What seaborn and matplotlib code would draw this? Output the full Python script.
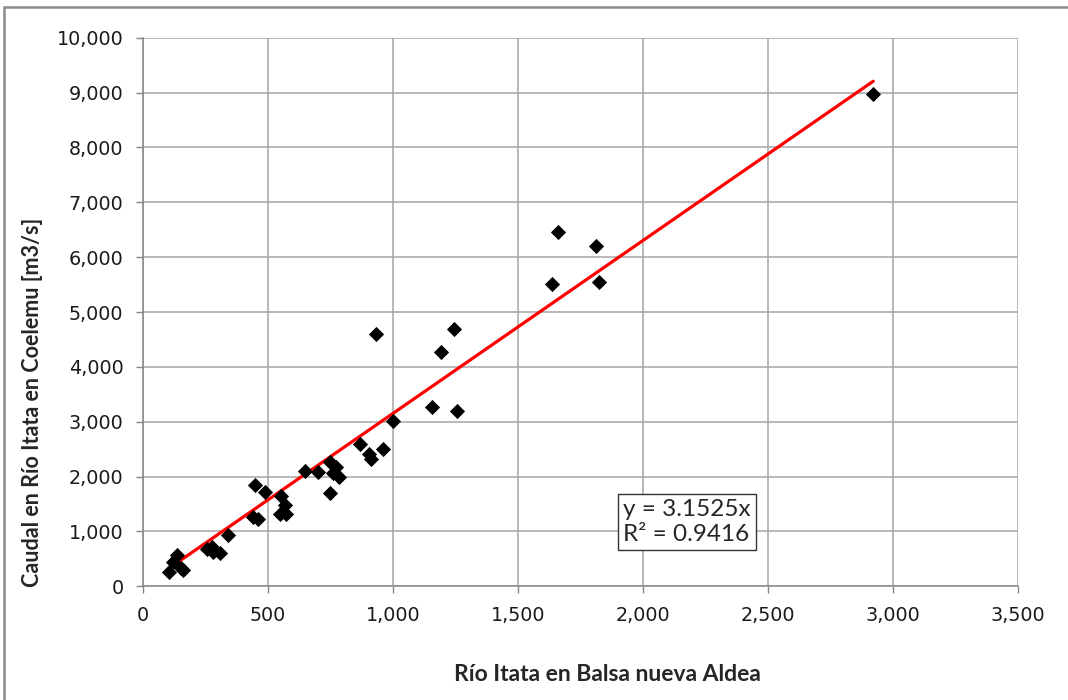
import matplotlib
matplotlib.use("Agg")
import matplotlib.pyplot as plt
import matplotlib.patches as mpatches
from matplotlib.ticker import FuncFormatter, MultipleLocator
import seaborn as sns
import pandas as pd
import numpy as np

# Data
balsa_nueva_aldea = [105, 135, 121, 151, 161, 257, 275, 281, 308, 341,
                     438, 460, 448, 488, 548, 572, 551, 568, 646, 701,
                     748, 772, 761, 785, 748, 868, 905, 911, 958, 999,
                     932, 1157, 1257, 1191, 1244, 1637, 1822, 1661, 1813, 2921]
coelemu = [266, 571, 449, 328, 297, 675, 722, 631, 602, 935,
           1258, 1221, 1847, 1713, 1318, 1312, 1652, 1482, 2110, 2075,
           2272, 2169, 2060, 1987, 1710, 2594, 2412, 2321, 2503, 3019,
           4600, 3265, 3196, 4277, 4697, 5520, 5545, 6466, 6210, 8976]
slope = 3.1525
r2 = 0.9416

x_label = "Río Itata en Balsa nueva Aldea"
y_label = "Caudal en Río Itata en Coelemu [m3/s]"

df = pd.DataFrame({"x": balsa_nueva_aldea, "y": coelemu})
xs = np.array([min(balsa_nueva_aldea), max(balsa_nueva_aldea)])
trend = pd.DataFrame({"x": xs, "y": slope * xs})

sns.set_theme(style="white")
plt.rcParams['font.family'] = ['DejaVu Sans']

fig = plt.figure(figsize=(10.68, 7.0), dpi=100)
ax = fig.add_axes([143/1068, 1 - 586.3/700, 875/1068, 548.5/700])

sns.lineplot(data=trend, x="x", y="y", ax=ax, color="#ff0000", linewidth=2.3, zorder=3)
sns.scatterplot(data=df, x="x", y="y", ax=ax, marker="D", s=60, color="black",
                edgecolor="black", linewidth=0, zorder=4)

ax.set_xlim(0, 3500)
ax.set_ylim(0, 10000)
ax.xaxis.set_major_locator(MultipleLocator(500))
ax.yaxis.set_major_locator(MultipleLocator(1000))
fmt = FuncFormatter(lambda v, p: f"{int(v):,}")
ax.xaxis.set_major_formatter(fmt)
ax.yaxis.set_major_formatter(fmt)

ax.grid(True, color="#a6a6a6", linewidth=1.1, zorder=0)
ax.set_axisbelow(True)
for s in ["top", "right"]:
    ax.spines[s].set_visible(False)
for s in ["left", "bottom"]:
    ax.spines[s].set_color("#868686")
    ax.spines[s].set_linewidth(1.1)
ax.tick_params(axis="both", which="major", direction="out", length=5, width=1,
               color="#868686", labelsize=13.8, labelcolor="#1a1a1a", pad=9,
               left=True, bottom=True)

ax.set_xlabel(x_label, fontsize=16.5, fontweight="bold", family=["Lato", "DejaVu Sans"])
ax.set_ylabel(y_label, fontsize=15.5, fontweight="bold", family=["Lato", "DejaVu Sans"])
ax.xaxis.set_label_coords((607 - 143) / 875, (586.3 - 664) / 548.5)
ax.yaxis.set_label_coords((43 - 143) / 875, (586.3 - 402) / 548.5)

ax.text(0.5417 + 0.007, 0.117, f"y = {slope}x\nR² = {r2}", transform=ax.transAxes,
        fontsize=17.5, family=["Lato", "DejaVu Sans"], va="center", ha="left",
        linespacing=1.2, zorder=5,
        bbox=dict(boxstyle="square,pad=0.22", facecolor="white", edgecolor="#333333", linewidth=1))

# chart-area frame
fig.patches.append(mpatches.Rectangle((4/1068, -0.1), 1.2, 1 - 7/700 + 0.1,
                                      transform=fig.transFigure, fill=False,
                                      edgecolor="#8a8a8a", linewidth=1.8))

fig.savefig("out.png", dpi=100)
